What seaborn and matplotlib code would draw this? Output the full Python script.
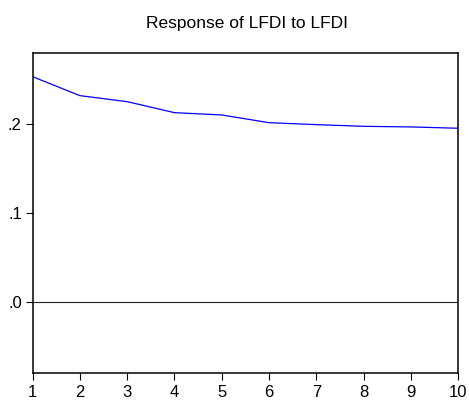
import matplotlib
matplotlib.use("Agg")
import matplotlib.pyplot as plt
import seaborn as sns
import pandas as pd

periods = [1, 2, 3, 4, 5, 6, 7, 8, 9, 10]
response = [0.2537, 0.2323, 0.2255, 0.2131, 0.2105, 0.2018, 0.1996, 0.1977, 0.1970, 0.1955]
yticks = [0.0, 0.1, 0.2]
ytick_labels = [".0", ".1", ".2"]
title = "Response of LFDI to LFDI"

sns.set_style("white")
plt.rcParams['font.family'] = ['Liberation Sans', 'DejaVu Sans']

df = pd.DataFrame({"period": periods, "response": response})

fig = plt.figure(figsize=(4.69, 4.05), dpi=100)
ax = fig.add_axes([32.5 / 469, 1 - 372.7 / 405, (458.3 - 32.5) / 469, (372.7 - 53.3) / 405])

sns.lineplot(data=df, x="period", y="response", ax=ax, color="#0000ff", linewidth=0.9)
ax.axhline(0, color="#222222", linewidth=0.8)

ax.set_xlim(1, 10)
ax.set_ylim(-0.080, 0.280)
ax.set_xticks(periods)
ax.set_xticklabels([str(p) for p in periods])
ax.set_yticks(yticks)
ax.set_yticklabels(ytick_labels)
ax.set_xlabel("")
ax.set_ylabel("")

for s in ax.spines.values():
    s.set_color("black")
    s.set_linewidth(1.1)
    s.set_visible(True)

ax.tick_params(axis="both", direction="out", length=4.7, width=0.8, color="black",
               labelsize=12, labelcolor="black", bottom=True, left=True)
ax.tick_params(axis="x", pad=4.5)
ax.tick_params(axis="y", pad=3)

fig.text(246.5 / 469, 1 - 28.3 / 405, title, ha="center", va="baseline", fontsize=12.5, color="black")

fig.savefig("out.png", dpi=100)
